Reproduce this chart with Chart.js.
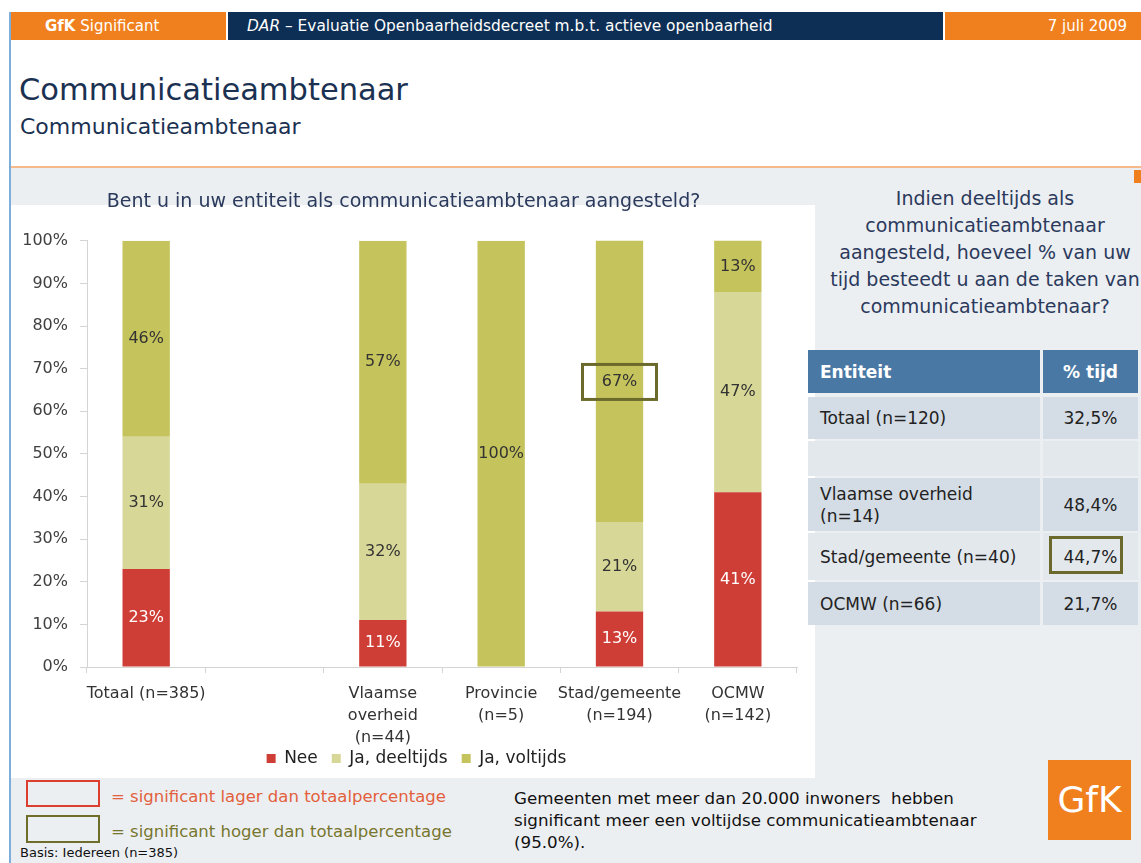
<!DOCTYPE html>
<html><head><meta charset="utf-8">
<script src="https://cdn.jsdelivr.net/npm/chart.js@4/dist/chart.umd.min.js"></script>
<style>
html,body{margin:0;padding:0}
body{width:1141px;height:863px;position:relative;overflow:hidden;background:#fff;font-family:"DejaVu Sans",Verdana,sans-serif}
.a{position:absolute;white-space:nowrap}
.hdr{top:12px;height:28px;line-height:28px;color:#fff;font-size:15px}
.row{position:absolute;left:808px;width:232px;font-size:17px;color:#222;box-sizing:border-box;padding-left:12px;display:flex;align-items:center;line-height:22px}
.val{position:absolute;left:1043px;width:95px;font-size:17px;color:#222;display:flex;align-items:center;justify-content:center}
</style></head><body>
<div class="a" style="left:9px;top:12px;width:2px;height:851px;background:#7eaedc"></div>
<div class="a hdr" style="left:11px;width:215px;background:#f0801e"></div>
<div class="a hdr" style="left:228px;width:715px;background:#0e2f55"></div>
<div class="a hdr" style="left:945px;width:196px;background:#f0801e"></div>
<div class="a hdr" style="left:45px"><b>GfK</b> Significant</div>
<div class="a hdr" style="left:247px;font-size:15.4px"><i>DAR</i> – Evaluatie Openbaarheidsdecreet m.b.t. actieve openbaarheid</div>
<div class="a hdr" style="right:14px">7 juli 2009</div>
<div class="a" style="left:19px;top:71px;font-size:30.5px;line-height:38px;color:#1b3152">Communicatieambtenaar</div>
<div class="a" style="left:20px;top:113px;font-size:22px;line-height:28px;color:#1b3152">Communicatieambtenaar</div>
<div class="a" style="left:11px;top:166px;width:1130px;height:2px;background:#f6b98a"></div>
<div class="a" style="left:11px;top:168px;width:1130px;height:695px;background:#eceff2"></div>
<div class="a" style="left:1134px;top:170px;width:7px;height:13px;background:#f0801e"></div>
<div class="a" style="left:11px;top:205px;width:804px;height:573px;background:#fff"></div>
<div class="a" style="left:815px;top:185px;width:340px;text-align:center;font-size:19px;line-height:27px;color:#2b3a5c">Indien deeltijds als<br>communicatieambtenaar<br>aangesteld, hoeveel % van uw<br>tijd besteedt u aan de taken van<br>communicatieambtenaar?</div>
<div id="tbl"></div>
<div class="a" style="left:26px;top:780px;width:70px;height:23px;border:2px solid #dc3f30"></div>
<div class="a" style="left:26px;top:815px;width:70px;height:24px;border:2px solid #6f6d2a"></div>
<div class="a" style="left:111px;top:786px;font-size:16.5px;line-height:22px;color:#e2603c">= significant lager dan totaalpercentage</div>
<div class="a" style="left:111px;top:821px;font-size:16.5px;line-height:22px;color:#77762e">= significant hoger dan totaalpercentage</div>
<div class="a" style="left:20px;top:845px;font-size:13px;line-height:16px;color:#111">Basis: Iedereen (n=385)</div>
<div class="a" style="left:514px;top:787px;font-size:16.7px;line-height:22px;color:#111">Gemeenten met meer dan 20.000 inwoners&nbsp; hebben<br>significant meer een voltijdse communicatieambtenaar<br>(95.0%).</div>
<div class="a" style="left:1048px;top:760px;width:83px;height:80px;background:#f0801e;color:#fff;font-size:36px;line-height:80px;text-align:center">GfK</div>
<canvas id="c" class="a" width="805" height="610" style="left:10px;top:180px;width:805px;height:610px"></canvas>
<script>
// ---- chart data ----
const categories = ["Totaal (n=385)", "", ["Vlaamse", "overheid", "(n=44)"], ["Provincie", "(n=5)"], ["Stad/gemeente", "(n=194)"], ["OCMW", "(n=142)"]];
const seriesNames = ["Nee", "Ja, deeltijds", "Ja, voltijds"];
const nee = [23, null, 11, 0, 13, 41];
const deeltijds = [31, null, 32, 0, 21, 47];
const voltijds = [46, null, 57, 100, 67, 13];
const yTickStep = 10;
const higherMarks = [{series: 2, index: 4}];
// ---- table data ----
const tableEntities = ["Totaal (n=120)", "", "Vlaamse overheid<br>(n=14)", "Stad/gemeente (n=40)", "OCMW (n=66)"];
const tableTijd = ["32,5%", "", "48,4%", "44,7%", "21,7%"];
const tableHigher = [false, false, false, true, false];

// build table
(function(){
  const tops = [397, 441, 478, 533, 582];
  const hs = [42, 35, 53, 47, 43];
  const bgs = ['#d4dce5', '#e3e8ed', '#d4dce5', '#e3e8ed', '#d4dce5'];
  let h = '<div class="row" style="top:350px;height:43px;background:#4a78a4;color:#fff;font-weight:bold">Entiteit</div>' +
          '<div class="val" style="top:350px;height:43px;background:#4a78a4;color:#fff;font-weight:bold">% tijd</div>';
  tableEntities.forEach((t, i) => {
    h += `<div class="row" style="top:${tops[i]}px;height:${hs[i]}px;background:${bgs[i]}">${t}</div>`;
    h += `<div class="val" style="top:${tops[i]}px;height:${hs[i]}px;background:${bgs[i]}">${tableTijd[i]}</div>`;
    if (tableHigher[i]) h += `<div class="a" style="left:1049px;top:${tops[i]+3}px;width:68px;height:32px;border:3px solid #6b6a2c"></div>`;
  });
  document.getElementById('tbl').innerHTML = h;
})();

const FONT = '"DejaVu Sans", Verdana, sans-serif';
Chart.defaults.font.family = FONT;
const labelColors = ['#ffffff', '#333333', '#333333'];

const valueLabels = {
  id: 'valueLabels',
  afterDatasetsDraw(chart) {
    const ctx = chart.ctx;
    ctx.save();
    ctx.font = '16px ' + FONT;
    ctx.textAlign = 'center';
    ctx.textBaseline = 'middle';
    const area = chart.chartArea;
    chart.data.datasets.forEach((ds, di) => {
      const meta = chart.getDatasetMeta(di);
      meta.data.forEach((el, i) => {
        const v = ds.data[i];
        if (!v) return;
        const top = Math.max(el.y, area.top);
        ctx.fillStyle = labelColors[di];
        ctx.fillText(v + '%', el.x, (top + el.base) / 2);
      });
    });
    ctx.restore();
  }
};
const highlight = {
  id: 'highlight',
  afterDatasetsDraw(chart) {
    const ctx = chart.ctx;
    ctx.save();
    ctx.strokeStyle = '#6b6a2c';
    ctx.lineWidth = 3;
    higherMarks.forEach(m => {
      const el = chart.getDatasetMeta(m.series).data[m.index];
      const cy = (Math.max(el.y, chart.chartArea.top) + el.base) / 2;
      ctx.strokeRect(el.x - 37, cy - 17, 74, 35);
    });
    ctx.restore();
  }
};
// lift the legend closer to the axis labels and nudge it right
const legendShift = {
  id: 'legendShift',
  afterLayout(chart) {
    const lg = chart.legend;
    if (lg) { lg.top -= 13; lg.bottom -= 13; lg.left += 13; lg.right += 13; }
  }
};

new Chart(document.getElementById('c'), {
  type: 'bar',
  data: {
    labels: categories,
    datasets: [
      {label: seriesNames[0], data: nee, backgroundColor: '#cf3e36'},
      {label: seriesNames[1], data: deeltijds, backgroundColor: '#d7d797'},
      {label: seriesNames[2], data: voltijds, backgroundColor: '#c5c35c'}
    ]
  },
  options: {
    responsive: false, animation: false, devicePixelRatio: 1,
    layout: {padding: {left: 0, right: 18, top: 0, bottom: 0}},
    datasets: {bar: {categoryPercentage: 1, barPercentage: 0.4}},
    plugins: {
      title: {display: true, text: 'Bent u in uw entiteit als communicatieambtenaar aangesteld?', color: '#2b3a5c',
              font: {size: 19, weight: 'normal'}, padding: {top: 11, bottom: 27}},
      legend: {position: 'bottom', labels: {boxWidth: 9, boxHeight: 9, padding: 14, color: '#222', font: {size: 17}}},
      tooltip: {enabled: false}
    },
    scales: {
      x: {stacked: true,
          grid: {drawOnChartArea: false, tickLength: 6, color: '#d4d4d4', offset: true},
          border: {color: '#d4d4d4'},
          ticks: {color: '#333', font: {size: 16, lineHeight: 1.375}, padding: 10, maxRotation: 0, autoSkip: false},
          afterFit(s) { s.height = 82; }},
      y: {stacked: true, min: 0, max: 100,
          ticks: {stepSize: yTickStep, callback: v => v + '%', color: '#404040', font: {size: 16}, padding: 12},
          grid: {drawOnChartArea: false, tickLength: 7, color: '#d4d4d4'},
          border: {color: '#d4d4d4'},
          afterFit(s) { s.width = 77; }}
    }
  },
  plugins: [valueLabels, highlight, legendShift]
});
</script>
</body></html>
